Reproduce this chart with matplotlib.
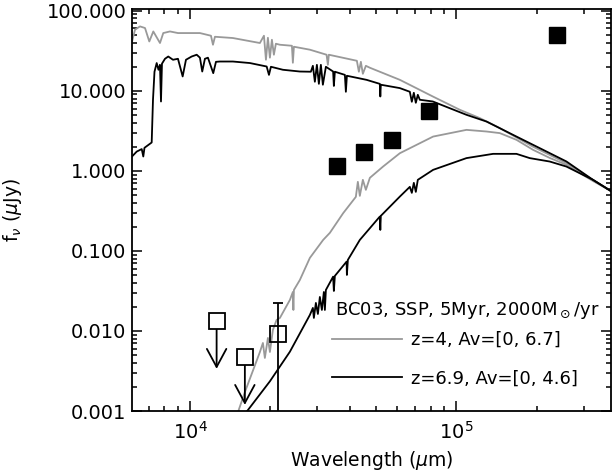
import math
import matplotlib
matplotlib.use('Agg')
import matplotlib.pyplot as plt
from matplotlib.ticker import FixedLocator, FuncFormatter, LogLocator, NullFormatter

plt.rcParams['font.family'] = 'DejaVu Sans'
plt.rcParams['mathtext.fontset'] = 'dejavusans'

# model SEDs: z=4 unreddened / reddened
gray0_wave = [6061, 6220, 6494, 6782, 7038, 7286, 7719, 7941, 8414, 9016, 10900, 11990, 12200,
              12410, 14490, 18300, 18950, 19280, 19610, 19950, 20300, 20650, 21010, 21750,
              24130, 24330, 24550, 28180, 32550, 32920, 33200, 42290, 43030, 43780, 44540,
              45710, 47320, 61310, 81500, 102900, 122300, 145400, 193300, 258400, 324400, 378900]
gray0_flux = [40.97, 57.9, 63.7, 60.8, 41.3, 55.1, 39.5, 52.6, 55.1, 52.6, 52.6, 48.7, 37.6,
              47.3, 45.6, 39.5, 48.7, 24.4, 45.96, 25.9, 43.4, 28.2, 38.7, 37.6,
              36.5, 22.4, 35.5, 32.6, 28.2, 21.1, 28.2, 23.7, 17.3, 23.0, 16.3,
              20.5, 19.4, 13.7, 8.49, 5.79, 4.56, 3.42, 2.01, 1.248, 0.772, 0.562]

gray1_wave = [15010, 16080, 17270, 18300, 18780, 19100, 19610, 19950, 20470, 21140, 21750,
              23710, 24330, 24440, 24550, 25850, 28180, 31610, 33490, 37570, 41920, 42650,
              43390, 44540, 45710, 47320, 53050, 61310, 81730, 109000, 129600, 145400,
              167900, 193800, 223800, 258400, 324400, 378900]
gray1_flux = [0.00089, 0.00173, 0.00326, 0.00546, 0.00708, 0.0046, 0.00818, 0.00546, 0.0103,
              0.01373, 0.01454, 0.0244, 0.0307, 0.0183, 0.0325, 0.0434, 0.0818, 0.1372, 0.168,
              0.296, 0.473, 0.729, 0.487, 0.772, 0.579, 0.818, 1.132, 1.66, 2.68, 3.25, 3.10,
              2.96, 2.44, 1.83, 1.45, 1.19, 0.75, 0.562]

# z=6.9 unreddened / reddened
black0_wave = [6061, 6313, 6592, 6682, 6751, 7185, 7266, 7361, 7502, 7619, 7718, 7786, 7852,
               8059, 8291, 8636, 9016, 9389, 9661, 10150, 10600, 10900, 11120, 11380, 11680,
               12230, 12520, 12960, 14490, 16790, 19400, 19790, 20130, 22320, 25850, 28420,
               28920, 29420, 29940, 30460, 30990, 31530, 32360, 34450, 34670, 34970, 38130,
               38460, 38800, 45980, 51570, 51790, 52020, 61310, 66830, 67990, 69180, 70380,
               71600, 72860, 81500, 109000, 129600, 167900, 205300, 258400, 325200, 378900]
black0_flux = [1.51, 1.74, 1.87, 1.51, 1.94, 2.26, 7.72, 17.3, 22.2, 18.3, 21.1, 7.35, 21.8,
               25.1, 26.8, 24.4, 25.1, 15.1, 24.4, 26.8, 28.2, 25.9, 17.4, 25.1, 25.9,
               16.6, 23.0, 23.2, 23.2, 22.2, 20.1, 15.8, 19.95, 18.3, 17.4, 17.3,
               20.5, 12.96, 21.1, 12.2, 21.1, 11.9, 19.95, 17.4, 11.5, 17.3, 15.8,
               9.72, 15.4, 13.7, 12.2, 8.49, 11.9, 10.8, 9.72, 7.29, 9.44, 7.08,
               8.91, 7.72, 7.35, 5.01, 4.13, 2.68, 1.92, 1.31, 0.772, 0.562]

black1_wave = [16150, 16320, 19950, 23710, 28180, 28920, 29170, 29680, 30200, 30720, 31260,
               31800, 32080, 32360, 34450, 34670, 34970, 38700, 38800, 39130, 43390, 51570,
               51790, 52020, 61310, 66830, 67990, 69180, 70380, 71600, 81730, 109000, 137200,
               167900, 188300, 223800, 258400, 325200, 378900]
black1_flux = [0.00089, 0.00098, 0.00235, 0.0055, 0.01585, 0.0194, 0.01454, 0.0224, 0.0163,
               0.0266, 0.0183, 0.0307, 0.0183, 0.0325, 0.0477, 0.0316, 0.0487, 0.0735, 0.0501,
               0.0772, 0.1372, 0.2685, 0.183, 0.274, 0.477, 0.631, 0.531, 0.708, 0.546, 0.772,
               1.029, 1.442, 1.63, 1.63, 1.442, 1.307, 1.132, 0.772, 0.562]

# photometry
det_wave = [35500, 44930, 57310, 78720, 238000]
det_flux = [1.16, 1.71, 2.42, 5.62, 49.6]
ul_wave = [12590, 16070]
ul_flux = [0.01345, 0.00477]
k_wave = [21430]
k_flux = [0.0091]
k_lo = [0.0004]
k_hi = [0.0226]

gray = '0.6'

fig = plt.figure(figsize=(6.15, 4.75), dpi=100)
ax = fig.add_axes([0.2146, 0.1347, 0.7789, 0.8463])

ax.plot(gray0_wave, gray0_flux, color=gray, lw=1.3, label='z=4, Av=[0, 6.7]')
ax.plot(gray1_wave, gray1_flux, color=gray, lw=1.3)
ax.plot(black0_wave, black0_flux, color='k', lw=1.3, label='z=6.9, Av=[0, 4.6]')
ax.plot(black1_wave, black1_flux, color='k', lw=1.3)

ax.plot(det_wave, det_flux, 's', color='k', ms=11)

for w, f in zip(ul_wave, ul_flux):
    ax.annotate('', xy=(w, f * 0.25), xytext=(w, f),
                arrowprops=dict(arrowstyle='->,head_length=1.3,head_width=0.7',
                                lw=1.3, color='k', shrinkA=0, shrinkB=0), zorder=3)
ax.plot(ul_wave, ul_flux, 's', mfc='white', mec='k', mew=1.3, ms=12, zorder=4)

ax.errorbar(k_wave, k_flux,
            yerr=[[k_flux[0] - k_lo[0]], [k_hi[0] - k_flux[0]]],
            fmt='s', mfc='none', mec='k', mew=1.3, ms=12, ecolor='k', elinewidth=1.3,
            capsize=3.5, capthick=1.3, zorder=4)

ax.set_xscale('log')
ax.set_yscale('log')
ax.set_xlim(6060, 3.8e5)
ax.set_ylim(0.001, 105)

ax.xaxis.set_major_locator(FixedLocator([1e4, 1e5]))
ax.xaxis.set_major_formatter(FuncFormatter(lambda v, p: r'$10^{%d}$' % round(math.log10(v))))
ax.xaxis.set_minor_locator(LogLocator(base=10, subs=range(2, 10)))
ax.xaxis.set_minor_formatter(NullFormatter())
ax.yaxis.set_major_locator(FixedLocator([0.001, 0.01, 0.1, 1, 10, 100]))
ax.yaxis.set_major_formatter(FuncFormatter(lambda v, p: '%.3f' % v))
ax.yaxis.set_minor_locator(LogLocator(base=10, subs=range(2, 10)))
ax.yaxis.set_minor_formatter(NullFormatter())

ax.tick_params(which='both', direction='in', top=True, right=True, width=1.1, labelsize=14)
ax.tick_params(which='major', length=7)
ax.tick_params(which='minor', length=3.5)
ax.tick_params(axis='y', pad=4)
ax.tick_params(axis='x', pad=7)
for s in ax.spines.values():
    s.set_linewidth(1.3)

ax.set_xlabel(r'Wavelength ($\mu$m)', fontsize=13.5)
ax.set_ylabel(r'f$_\nu$ ($\mu$Jy)', fontsize=13.5)
ax.yaxis.set_label_coords(-0.225, 0.5)
ax.xaxis.set_label_coords(0.5, -0.095)

ax.text(0.423, 0.25, r'BC03, SSP, 5Myr, 2000M$_\odot$/yr', transform=ax.transAxes,
        fontsize=13, va='center', ha='left')
ax.legend(loc='upper left', bbox_to_anchor=(0.41, 0.208), frameon=False, fontsize=13,
          handlelength=3.9, handletextpad=0.5, labelspacing=1.15, borderpad=0.2,
          borderaxespad=0)

fig.savefig('out.png', dpi=100)
